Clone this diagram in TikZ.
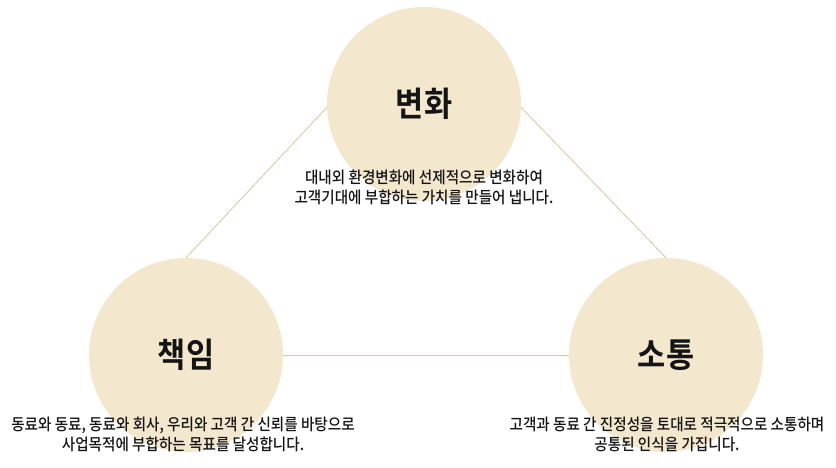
\documentclass[tikz,border=0pt]{standalone}
\usepackage{fontspec}
\newfontfamily\krfont[FakeStretch=0.9,BoldFont={Noto Sans CJK KR Bold}]{Noto Sans CJK KR Medium}
\usetikzlibrary{backgrounds}
\definecolor{circfill}{RGB}{243,231,206}
\definecolor{linkcol}{RGB}{216,198,150}
\definecolor{txt}{RGB}{20,20,20}
\begin{document}
\begin{tikzpicture}[x=1pt,y=-1pt,
  topic/.style={circle, fill=circfill, minimum size=194pt, inner sep=0pt,
    font=\krfont\bfseries\fontsize{34}{38}\selectfont, text=txt},
  desc/.style={align=center, font=\krfont\fontsize{16.2}{19.5}\selectfont, text=txt, inner sep=0pt},
  link/.style={draw=linkcol, line width=0.8pt}]
\useasboundingbox (0,0) rectangle (836,467);
\node[topic] (change) at (424,104) {변화};
\node[topic] (resp) at (186,355) {책임};
\node[topic] (comm) at (666,355) {소통};
\begin{scope}[on background layer]
\draw[link] (change.182) -- (resp.north);
\draw[link] (change.358) -- (comm.north);
\draw[link] (resp.east) -- (comm.west);
\end{scope}
\node[desc] (changetxt) at (424,187.5) {대내외 환경변화에 선제적으로 변화하여\\고객기대에 부합하는 가치를 만들어 냅니다.};
\node[desc] (resptxt) at (183,434.5) {동료와 동료, 동료와 회사, 우리와 고객 간 신뢰를 바탕으로\\사업목적에 부합하는 목표를 달성합니다.};
\node[desc] (commtxt) at (667,434.5) {고객과 동료 간 진정성을 토대로 적극적으로 소통하며\\공통된 인식을 가집니다.};
\end{tikzpicture}
\end{document}
